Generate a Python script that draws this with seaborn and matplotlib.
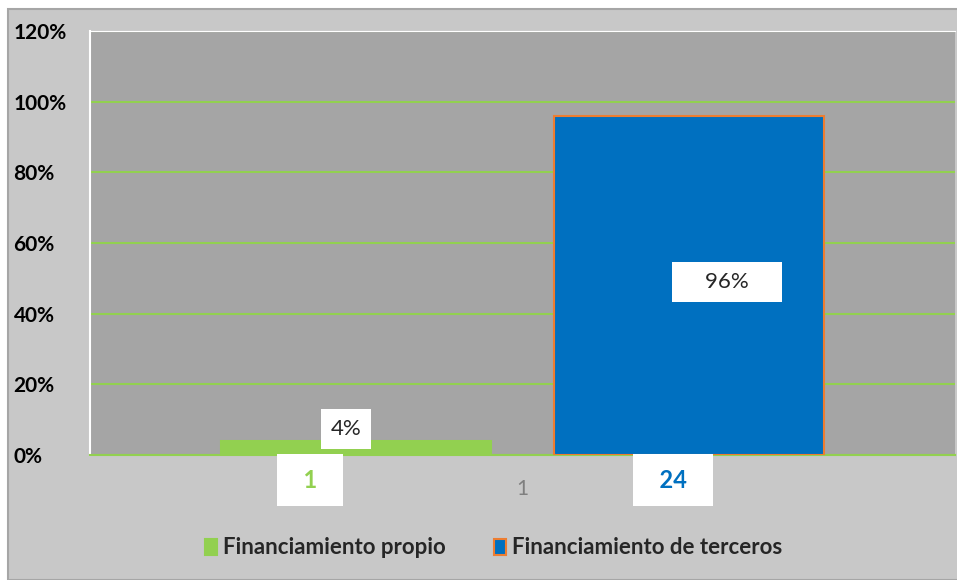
import pandas as pd
import matplotlib.pyplot as plt
import seaborn as sns
from matplotlib.patches import Rectangle

# data
categories = ["1", "1"]
series = ["Financiamiento propio", "Financiamiento de terceros"]
shares = [0.04, 0.96]
counts = [1, 24]
share_labels = ["4%", "96%"]
y_ticks = [0, 0.2, 0.4, 0.6, 0.8, 1.0, 1.2]
y_tick_labels = ["0%", "20%", "40%", "60%", "80%", "100%", "120%"]

colors = ["#92d050", "#0070c0"]
edges = ["#92d050", "#ed7d31"]

df = pd.DataFrame({"cat": categories, "serie": series, "share": shares})

sns.set_style("white")
plt.rcParams["font.family"] = ["Lato", "DejaVu Sans"]

fig = plt.figure(figsize=(9.57, 5.8), dpi=100)
fig.patch.set_facecolor("white")
fig.patches.append(Rectangle((8 / 957, 0), 1, 1 - 9 / 580, transform=fig.transFigure,
                             facecolor="#c8c8c8", edgecolor="#a6a6a6", linewidth=1.5, zorder=-1))

ax = fig.add_axes([90 / 957, 125 / 580, 865 / 957, 424 / 580])
ax.set_facecolor("#a5a5a5")

sns.barplot(data=df, x="cat", y="share", hue="serie", hue_order=series,
            palette=colors, saturation=1, width=0.77, gap=0.19, ax=ax, legend=False)

for bar, ec in zip(ax.patches, edges):
    bar.set_edgecolor(ec)
    bar.set_linewidth(1.5)
    bar.set_zorder(3)

ax.set_ylim(0, 1.2)
ax.set_xlim(-0.5, 0.5)
ax.set_yticks(y_ticks)
ax.set_yticklabels(y_tick_labels, fontsize=15, fontweight="bold", color="black")
ax.tick_params(axis="x", labelsize=15, labelcolor="#7f7f7f", pad=17, length=0)
ax.tick_params(axis="y", length=0, pad=55)
for lbl in ax.get_yticklabels():
    lbl.set_horizontalalignment("left")
ax.set_xlabel("")
ax.set_ylabel("")
ax.yaxis.grid(True, color="#92d050", linewidth=1.5, zorder=1)
ax.set_axisbelow(True)
ax.spines["right"].set_visible(False)
ax.spines["top"].set_color("white")
ax.spines["left"].set_color("white")
ax.spines["left"].set_linewidth(1.5)
ax.spines["bottom"].set_color("#92d050")
ax.spines["bottom"].set_linewidth(1.5)

g_bar, b_bar = ax.patches[0], ax.patches[1]

# percentage labels
ax.text(g_bar.get_x() + g_bar.get_width() / 2 - 0.0116, shares[0] + 0.034, share_labels[0],
        ha="center", va="center", fontsize=16, zorder=5,
        bbox=dict(boxstyle="square,pad=0.45", facecolor="white", edgecolor="none"))
ax.text(b_bar.get_x() + b_bar.get_width() / 2 + 0.044, shares[1] / 2 + 0.01,
        "    " + share_labels[1] + "    ",
        ha="center", va="center", fontsize=16, zorder=5,
        bbox=dict(boxstyle="square,pad=0.45", facecolor="white", edgecolor="none"))

# count labels below the axis
offsets = [-0.053, -0.0185]
for bar, n, c, off in zip([g_bar, b_bar], counts, colors, offsets):
    cx = bar.get_x() + bar.get_width() / 2 + off
    ax.text(cx, -0.071, "  " + str(n) + "  ", ha="center", va="center", fontsize=17,
            fontweight="bold", color=c, clip_on=False, zorder=5,
            bbox=dict(boxstyle="square,pad=0.62", facecolor="white", edgecolor="none"))

# legend
handles = [Rectangle((0, 0), 1, 1, facecolor=colors[i], edgecolor=edges[i], linewidth=1.5)
           for i in range(2)]
fig.legend(handles, series, loc="center", bbox_to_anchor=(0.5157, 32 / 580), ncol=2,
           frameon=False, prop={"weight": "bold", "size": 16}, handlelength=0.55,
           handleheight=0.7, handletextpad=0.25, columnspacing=2.2)

fig.savefig("out.png", dpi=100)
